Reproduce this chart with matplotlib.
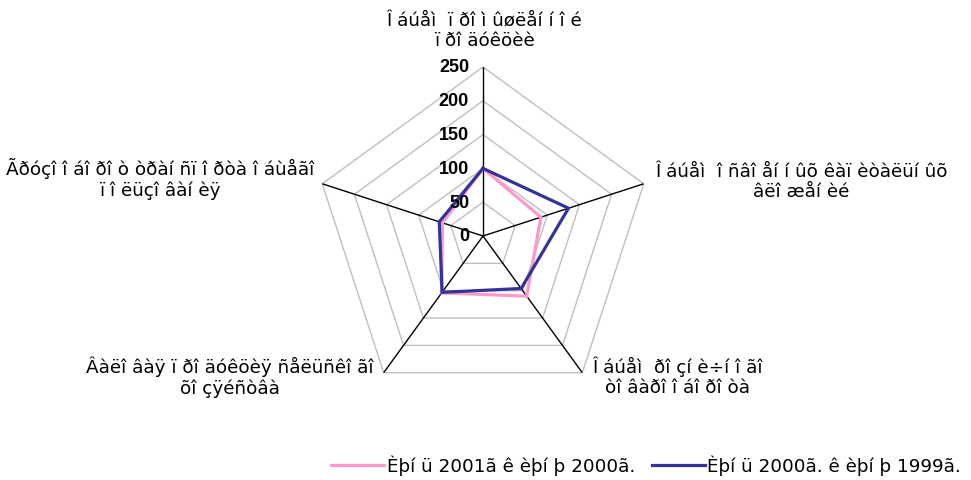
import matplotlib
matplotlib.use('Agg')
import matplotlib.pyplot as plt
import numpy as np

plt.rcParams['font.family'] = ['DejaVu Sans']

# category labels (kept exactly as they appear, mis-encoded)
categories = [
    'Î áúåì  ï ðî ì ûøëåí í î é\nï ðî äóêöèè',
    'Î áúåì  î ñâî åí í ûõ êàï èòàëüí ûõ\nâëî æåí èé',
    'Î áúåì  ðî çí è÷í î ãî\nòî âàðî î áî ðî òà',
    'Âàëî âàÿ ï ðî äóêöèÿ ñåëüñêî ãî\nõî çÿéñòâà',
    'Ãðóçî î áî ðî ò òðàí ñï î ðòà î áùåãî\nï î ëüçî âàí èÿ',
]
series_names = ['Èþí ü 2001ã ê èþí þ 2000ã.', 'Èþí ü 2000ã. ê èþí þ 1999ã.']
vals_2001 = [100, 90, 110, 104, 63]
vals_2000 = [100, 133, 96, 103, 68]
r_ticks = [0, 50, 100, 150, 200, 250]

colors = ['#FF99CC', '#333399']

W, H = 971, 481
fig = plt.figure(figsize=(W / 100, H / 100), dpi=100)
cx, cy, R = 483, 244, 169
ax = fig.add_axes([(cx - R) / W, (cy - R) / H, 2 * R / W, 2 * R / H], projection='polar')
ax.set_theta_offset(np.pi / 2)
ax.set_theta_direction(-1)
ax.set_ylim(0, r_ticks[-1])
ax.grid(False)
ax.spines['polar'].set_visible(False)
ax.set_xticks([])
ax.set_yticks([])
ax.patch.set_visible(False)

n = len(categories)
theta = np.arange(n) * 2 * np.pi / n
theta_c = np.append(theta, theta[0])

# pentagon grid
for r in r_ticks[1:]:
    ax.plot(theta_c, [r] * (n + 1), color='#BFBFBF', lw=1.0, zorder=1)
# spokes
for t in theta:
    ax.plot([t, t], [0, r_ticks[-1]], color='black', lw=1.0, zorder=2)

for vals, col, name in [(vals_2001, colors[0], series_names[0]),
                        (vals_2000, colors[1], series_names[1])]:
    v = np.append(vals, vals[0])
    ax.plot(theta_c, v, color=col, lw=2.3, label=name, zorder=3,
            solid_joinstyle='miter')

# radial tick labels along top axis
for r in r_ticks:
    ax.annotate(str(r), (0, r), xytext=(-10, 0), textcoords='offset points',
                ha='right', va='center', fontsize=13, fontweight='bold',
                family='Liberation Sans', zorder=4)

# category labels
label_pos = [(484, 31), (801, 182), (677, 377), (230, 377), (160, 179)]
for lab, (x, y) in zip(categories, label_pos):
    fig.text(x / W, 1 - y / H, lab, ha='center', va='center', fontsize=13.2,
             linespacing=1.15)

fig.legend(loc='center', bbox_to_anchor=(646 / W, 1 - 466 / H), ncol=2,
           frameon=False, fontsize=13.2, handlelength=2.9, handletextpad=0.15,
           columnspacing=0.9, borderpad=0, borderaxespad=0)

fig.savefig('out.png', dpi=100)
